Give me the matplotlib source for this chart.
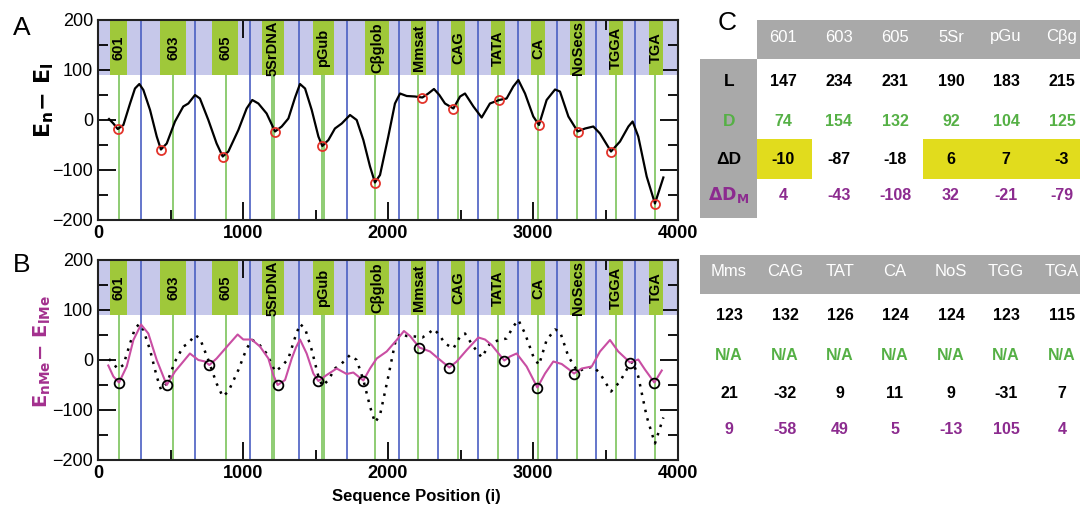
import numpy as np
import matplotlib
matplotlib.use("Agg")
import matplotlib.pyplot as plt
from matplotlib.patches import Rectangle

plt.rcParams['font.family'] = ['Liberation Sans', 'DejaVu Sans']

# ---- data ----
seg_names = ['601', '603', '605', '5SrDNA', 'pGub', 'Cβglob', 'Mmsat',
             'CAG', 'TATA', 'CA', 'NoSecs', 'TGGA', 'TGA']
seg_left = [83, 428, 786, 1131, 1483, 1841, 2159, 2434, 2710, 2986, 3255, 3524, 3800]
seg_right = [200, 607, 966, 1283, 1628, 2007, 2262, 2531, 2807, 3083, 3359, 3621, 3897]

green_pos = [145, 517, 880, 1198, 1213, 1543, 1560, 1910, 2207, 2483,
             2759, 3034, 3303, 3572, 3841]
blue_pos = [297, 669, 1048, 1386, 1717, 2076, 2345, 2621, 2897, 3166, 3434, 3703]

# E_n - E_l (panel A, dotted in panel B)
a_x = [76, 106, 136, 175, 221, 255, 285, 313, 359, 405,
       434, 474, 531, 588, 623, 669, 703, 761, 818, 860,
       899, 968, 1025, 1064, 1106, 1163, 1221, 1267, 1313, 1359,
       1393, 1428, 1474, 1520, 1547, 1589, 1634, 1681, 1738, 1784,
       1830, 1876, 1910, 1945, 2002, 2048, 2083, 2129, 2186, 2237,
       2278, 2317, 2354, 2393, 2451, 2497, 2531, 2589, 2646, 2703,
       2766, 2818, 2864, 2899, 2945, 3002, 3041, 3094, 3152, 3186,
       3244, 3308, 3359, 3416, 3462, 3538, 3600, 3658, 3687, 3726,
       3784, 3841, 3899]
a_y = [2, -7, -18, -10, 33, 63, 72, 60, 20, -33,
       -59, -47, -3, 27, 33, 50, 43, 0, -47, -73,
       -63, -20, 23, 40, 33, 13, -23, -13, 3, 45,
       72, 63, 20, -33, -52, -40, -17, -7, 10, 0,
       -40, -93, -125, -110, -33, 33, 53, 48, 47, 45,
       53, 62, 50, 33, 23, 47, 53, 27, 5, 33,
       40, 43, 67, 80, 53, 7, -10, 40, 61, 57,
       7, -23, -17, -13, -27, -63, -43, -13, -3, -33,
       -113, -167, -115]
a_min_x = [136, 434, 860, 1221, 1547, 1910, 2237, 2451, 2766, 3041, 3308, 3538, 3841]
a_min_y = [-18, -59, -73, -23, -52, -125, 45, 23, 40, -10, -23, -63, -167]

# E_nMe - E_lMe (panel B)
b_x = [71, 106, 145, 198, 244, 297, 347, 405, 474, 531,
       577, 634, 692, 738, 768, 818, 899, 963, 1002, 1060,
       1117, 1175, 1209, 1239, 1290, 1336, 1365, 1393, 1439, 1485,
       1520, 1577, 1646, 1715, 1761, 1830, 1876, 1922, 1991, 2060,
       2110, 2152, 2216, 2290, 2347, 2423, 2474, 2543, 2623, 2669,
       2715, 2802, 2841, 2887, 2956, 3030, 3083, 3140, 3198, 3244,
       3283, 3336, 3405, 3462, 3531, 3588, 3669, 3726, 3772, 3837,
       3888]
b_y = [-11, -33, -45, -13, 40, 71, 53, 0, -50, -23,
       -7, 13, 0, -3, -10, 3, 30, 51, 41, 41,
       27, 3, -30, -50, -40, 3, 25, 41, 13, -27,
       -42, -30, -17, -28, -25, -41, -17, 3, 17, 40,
       58, 48, 25, 17, 3, -15, -3, 20, 45, 41,
       30, -1, 7, 13, -13, -55, -27, -3, -8, -18,
       -27, -17, -13, 17, 40, 17, -5, 1, -19, -45,
       -21]
b_min_x = [145, 474, 768, 1239, 1520, 1830, 2216, 2423, 2802, 3030, 3283, 3669, 3837]
b_min_y = [-45, -50, -10, -50, -42, -41, 25, -15, -1, -55, -27, -5, -45]

# table C
tab1_cols = ['601', '603', '605', '5Sr', 'pGu', 'Cβg']
tab2_cols = ['Mms', 'CAG', 'TAT', 'CA', 'NoS', 'TGG', 'TGA']
L_vals = ['147', '234', '231', '190', '183', '215', '123', '132', '126', '124', '124', '123', '115']
D_vals = ['74', '154', '132', '92', '104', '125', 'N/A', 'N/A', 'N/A', 'N/A', 'N/A', 'N/A', 'N/A']
dD_vals = ['-10', '-87', '-18', '6', '7', '-3', '21', '-32', '9', '11', '9', '-31', '7']
dDM_vals = ['4', '-43', '-108', '32', '-21', '-79', '9', '-58', '49', '5', '-13', '105', '4']

# ---- colours ----
band_c = '#c6c8ea'
box_c = '#9fc83a'
green_c = '#7cc35b'
blue_c = '#4a5fc2'
mag_c = '#c94ea3'
red_c = '#e3342b'
gray_c = '#a9a9a9'
yel_c = '#e1dc1d'
tgreen = '#55b045'
tpurple = '#8c2b8f'

W, H = 1080, 508
fig = plt.figure(figsize=(W / 100, H / 100), dpi=100)

band_lo = 90


def setup_panel(ax):
    ax.set_xlim(0, 4000)
    ax.set_ylim(-200, 200)
    ax.axhspan(band_lo, 200, color=band_c, zorder=0, lw=0)
    for xb in blue_pos:
        ax.axvline(xb, color=blue_c, lw=1.2, zorder=1)
    for xg in green_pos:
        ax.plot([xg, xg], [-200, band_lo], color=green_c, lw=1.2, zorder=1)
    for name, l, r in zip(seg_names, seg_left, seg_right):
        ax.add_patch(Rectangle((l, band_lo), r - l, 200 - band_lo,
                               color=box_c, lw=0, zorder=2))
        ax.text((l + r) / 2, 144, name, rotation=90, ha='center', va='center',
                fontsize=10.5, fontweight='bold', zorder=3)
    ax.set_xticks([0, 1000, 2000, 3000, 4000])
    ax.set_xticks([500, 1500, 2500, 3500], minor=True)
    ax.set_yticks([-200, -100, 0, 100, 200])
    ax.set_yticks([-150, -50, 50, 150], minor=True)
    ax.tick_params(which='both', direction='in', top=True, right=True,
                   width=1.3, labelsize=13)
    ax.tick_params(which='major', length=13)
    ax.tick_params(which='minor', length=7)
    for lab in ax.get_xticklabels():
        lab.set_fontweight('bold')
    for s in ax.spines.values():
        s.set_linewidth(1.5)
        s.set_color('#222222')


axA = fig.add_axes([98 / W, (H - 220) / H, 580 / W, 200 / H])
setup_panel(axA)
axA.plot(a_x, a_y, color='black', lw=1.6, zorder=4, solid_joinstyle='round')
axA.plot(a_min_x, a_min_y, 'o', mfc='none', mec=red_c, ms=6.5, mew=1.3, zorder=5)

axB = fig.add_axes([98 / W, (H - 460) / H, 580 / W, 200 / H])
setup_panel(axB)
axB.plot(a_x, a_y, color='black', lw=1.8, ls=(0, (1, 2.5)), zorder=4)
axB.plot(b_x, b_y, color=mag_c, lw=1.5, zorder=4, solid_joinstyle='round')
axB.plot(b_min_x, b_min_y, 'o', mfc='none', mec='black', ms=7, mew=1.3, zorder=5)

# overlay in pixel coordinates for labels and table
ov = fig.add_axes([0, 0, 1, 1])
ov.set_xlim(0, W)
ov.set_ylim(H, 0)
ov.axis('off')

ov.text(22, 28, 'A', fontsize=19, ha='center', va='center')
ov.text(22, 265, 'B', fontsize=19, ha='center', va='center')
ov.text(727, 23, 'C', fontsize=19, ha='center', va='center')
ov.text(44, 100, r'$\mathbf{E_n\!-\,E_l}$', fontsize=16, rotation=90,
        ha='center', va='center')
ov.text(42, 352, r'$\mathbf{E_{nMe}\!-\,E_{lMe}}$', fontsize=14, rotation=90,
        ha='center', va='center', color='#a3308e')
ov.text(416, 496, 'Sequence Position (i)', fontsize=12, fontweight='bold',
        ha='center', va='center')

# table 1
col1_x = [783, 839, 895, 951, 1006, 1062]
row1_y = [81, 121, 160, 195]
ov.add_patch(Rectangle((757, 20), W - 757, 39, color=gray_c, lw=0))
ov.add_patch(Rectangle((700, 59), 57, 159, color=gray_c, lw=0))
ov.add_patch(Rectangle((757, 139), 55, 40, color=yel_c, lw=0))
ov.add_patch(Rectangle((923, 139), W - 923, 40, color=yel_c, lw=0))
for x, c in zip(col1_x, tab1_cols):
    ov.text(x, 37, c, color='white', fontsize=12, ha='center', va='center')
ov.text(729, row1_y[0], 'L', fontsize=12.5, fontweight='bold', ha='center', va='center')
ov.text(729, row1_y[1], 'D', fontsize=12.5, fontweight='bold', ha='center', va='center', color=tgreen)
ov.text(729, row1_y[2], 'ΔD', fontsize=12.5, fontweight='bold', ha='center', va='center')
ov.text(729, row1_y[3], r'$\mathbf{\Delta D_M}$', fontsize=12.5, ha='center', va='center', color=tpurple)
for i, x in enumerate(col1_x):
    ov.text(x, row1_y[0], L_vals[i], fontsize=11.5, fontweight='bold', ha='center', va='center')
    ov.text(x, row1_y[1], D_vals[i], fontsize=11.5, fontweight='bold', ha='center', va='center', color=tgreen)
    ov.text(x, row1_y[2], dD_vals[i], fontsize=11.5, fontweight='bold', ha='center', va='center')
    ov.text(x, row1_y[3], dDM_vals[i], fontsize=11.5, fontweight='bold', ha='center', va='center', color=tpurple)

# table 2
col2_x = [729, 785, 840, 895, 951, 1006, 1062]
row2_y = [316, 355, 394, 429]
ov.add_patch(Rectangle((700, 255), W - 700, 39, color=gray_c, lw=0))
for x, c in zip(col2_x, tab2_cols):
    ov.text(x, 271, c, color='white', fontsize=12, ha='center', va='center')
for j, x in enumerate(col2_x):
    i = j + 6
    ov.text(x, row2_y[0], L_vals[i], fontsize=11.5, fontweight='bold', ha='center', va='center')
    ov.text(x, row2_y[1], D_vals[i], fontsize=11.5, fontweight='bold', ha='center', va='center', color=tgreen)
    ov.text(x, row2_y[2], dD_vals[i], fontsize=11.5, fontweight='bold', ha='center', va='center')
    ov.text(x, row2_y[3], dDM_vals[i], fontsize=11.5, fontweight='bold', ha='center', va='center', color=tpurple)

fig.savefig('out.png', dpi=100)
